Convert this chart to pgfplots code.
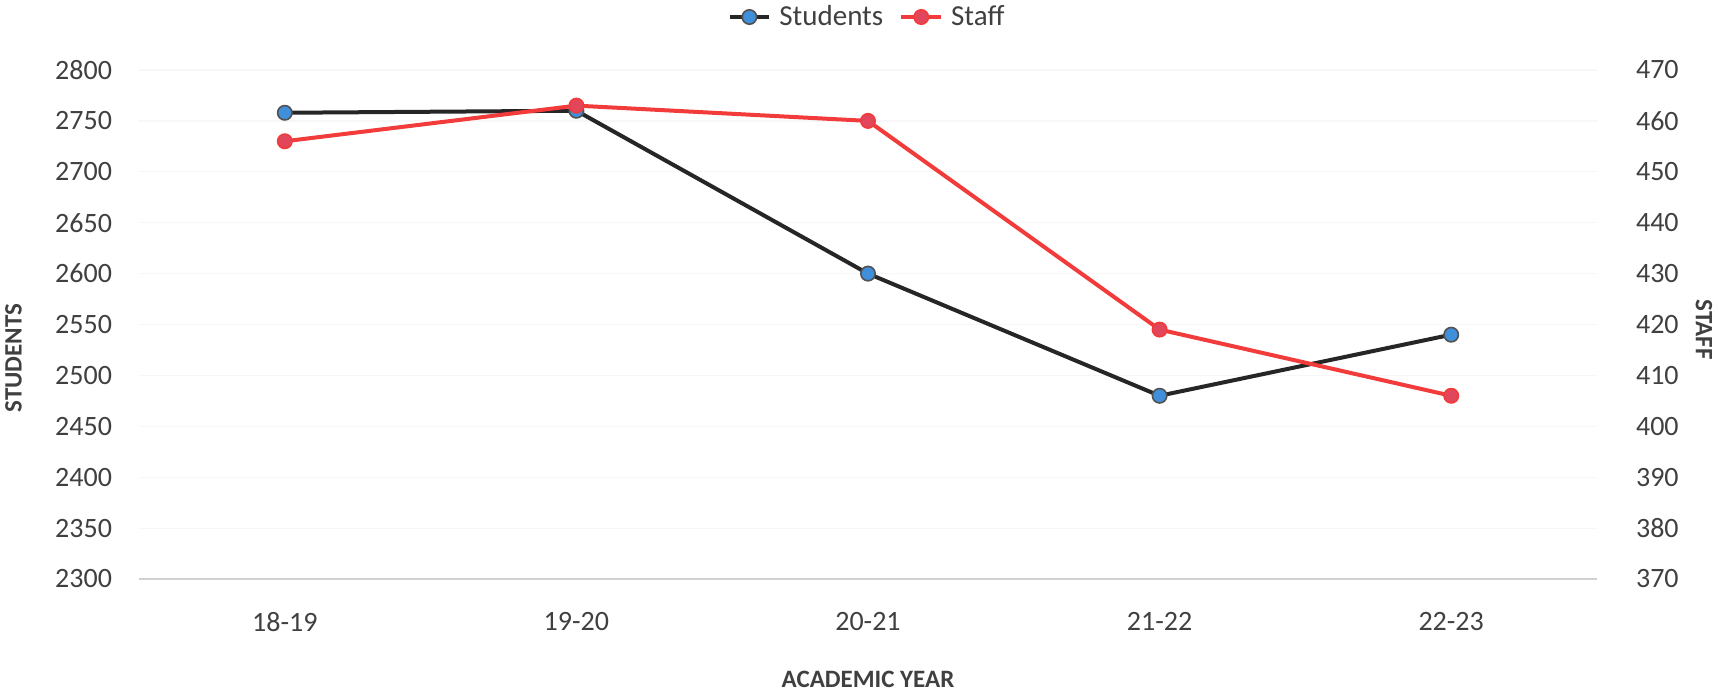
\documentclass[border=0pt]{standalone}
\usepackage{fontspec}
\setmainfont{Carlito}
\usepackage{pgfplots}
\pgfplotsset{compat=1.18}
\definecolor{txt}{HTML}{404040}
\definecolor{stuline}{HTML}{262626}
\definecolor{stufill}{HTML}{3F8FDA}
\definecolor{staline}{HTML}{F23B3B}
\definecolor{stafill}{HTML}{E2465A}
\definecolor{base}{HTML}{D0D0D0}
\begin{document}
\begin{tikzpicture}
\useasboundingbox (-69.5pt,-56pt) rectangle (789.5pt,289.5pt);
\pgfplotsset{
  common/.style={
    scale only axis, width=729pt, height=254.5pt,
    xmin=-0.5, xmax=4.5,
    xtick={0,1,2,3,4},
    major tick length=0pt,
    tick label style={font=\fontsize{14}{16}\selectfont, text=txt},
    /pgf/number format/assume math mode=true,
    /pgf/number format/1000 sep={},
    clip=false,
  }
}
\begin{axis}[common,
  axis y line*=left, axis x line*=bottom,
  y axis line style={draw=none},
  x axis line style={draw=base, line width=1pt},
  ymin=2300, ymax=2800, ytick={2300,2350,...,2800},
  ymajorgrids, grid style={draw=gray!6, line width=0.6pt},
  xticklabels={18-19,19-20,20-21,21-22,22-23},
  xticklabel style={yshift=-13pt},
  yticklabel style={xshift=-10pt},
  xlabel={\bfseries ACADEMIC YEAR},
  ylabel={\bfseries STUDENTS},
  label style={font=\fontsize{12.5}{14}\selectfont, text=txt},
  xlabel style={at={(axis description cs:0.5,0)}, anchor=center, yshift=-50pt},
  ylabel style={at={(axis description cs:-0.086,0.434)}, anchor=center},
  legend style={at={(axis description cs:0.5,1)}, anchor=center, yshift=26.5pt,
    draw=none, fill=none, legend columns=-1, font=\fontsize{14.5}{16}\selectfont,
    text=txt, column sep=2pt, /tikz/every even column/.append style={column sep=6pt}},
  legend image code/.code={
    \draw[mark repeat=2,mark phase=2] plot coordinates {(0cm,0cm) (0.35cm,0cm) (0.7cm,0cm)};
  },
]
\addplot[stuline, line width=2pt, mark=*, mark size=3.6pt,
  mark options={fill=stufill, draw=stuline!80, line width=0.8pt}]
  coordinates {(0,2758) (1,2760) (2,2600) (3,2480) (4,2540)};
\addlegendentry{Students}
\addlegendimage{staline, line width=2pt, mark=*, mark size=3.6pt,
  mark options={fill=stafill, draw=staline, line width=0.8pt}}
\addlegendentry{Staff}
\end{axis}
\begin{axis}[common,
  axis y line*=right, axis x line=none,
  y axis line style={draw=none},
  ymin=370, ymax=470, ytick={370,380,...,470},
  xticklabels={},
  yticklabel style={xshift=16pt},
  ylabel={\bfseries STAFF},
  label style={font=\fontsize{12.5}{14}\selectfont, text=txt},
  ylabel style={at={(axis description cs:1.0734,0.49)}, anchor=center, rotate=180},
]
\addplot[staline, line width=2pt, mark=*, mark size=3.6pt,
  mark options={fill=stafill, draw=staline, line width=0.8pt}]
  coordinates {(0,456) (1,463) (2,460) (3,419) (4,406)};
\end{axis}
\end{tikzpicture}
\end{document}
